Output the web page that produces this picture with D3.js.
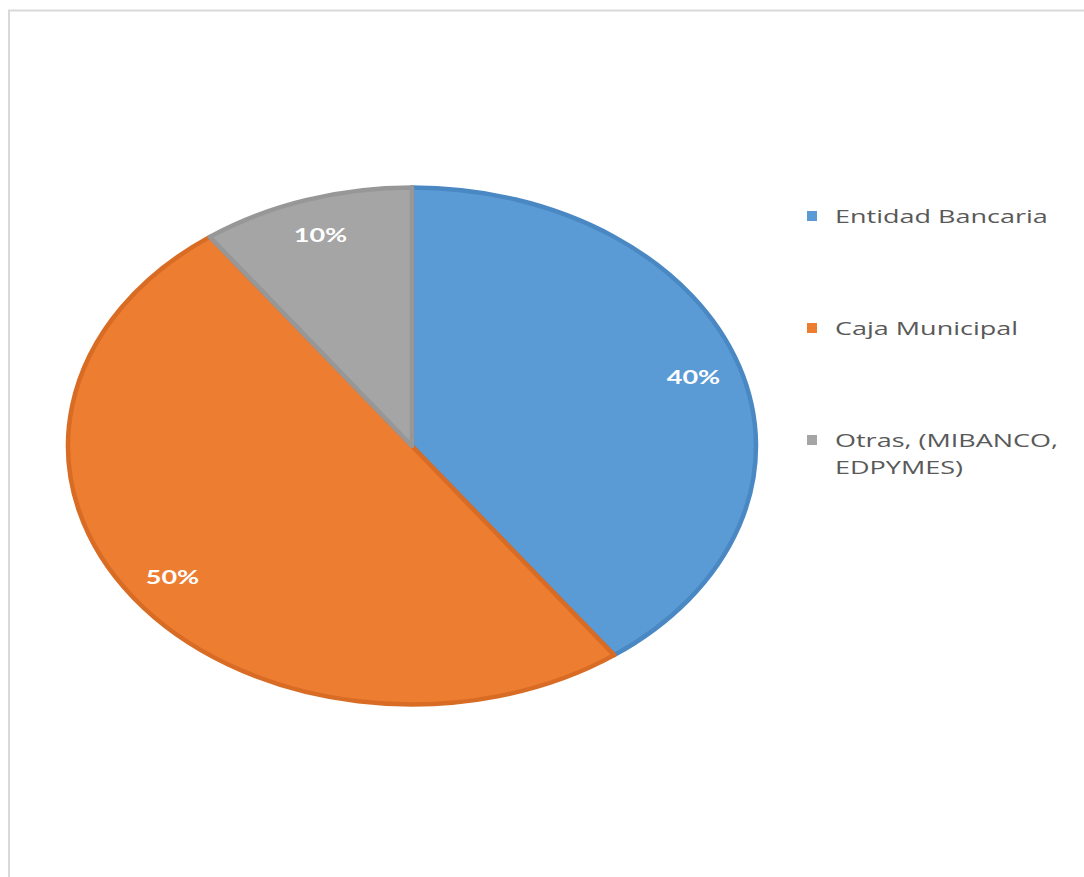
<!DOCTYPE html>
<html>
<head>
<meta charset="utf-8">
<script src="https://cdn.jsdelivr.net/npm/d3@7"></script>
<style>
  html, body { margin: 0; padding: 0; background: #ffffff; }
  svg { display: block; }
</style>
</head>
<body>
<svg id="chart" width="1084" height="877"></svg>
<script>
// Shares of financing source
const categories = ["Entidad Bancaria", "Caja Municipal", "Otras, (MIBANCO, EDPYMES)"];
const values = [40, 50, 10];
const labels = ["40%", "50%", "10%"];
const legendLines = [["Entidad Bancaria"], ["Caja Municipal"], ["Otras, (MIBANCO,", "EDPYMES)"]];
const fills = ["#5b9bd5", "#ed7d31", "#a5a5a5"];
const edges = ["#4a88c4", "#d96c24", "#979797"];

const svg = d3.select("#chart");

// chart frame
svg.append("path")
  .attr("d", "M9,877 V10.5 H1084")
  .attr("fill", "none")
  .attr("stroke", "#d9d9d9")
  .attr("stroke-width", 2);

const cx = 412, cy = 446, rx = 346, ry = 260;
const squash = ry / rx;
const stretch = 1.5; // text is drawn widened like the pie

const pie = d3.pie().sort(null).value(d => d)(values);
const arc = d3.arc().innerRadius(0).outerRadius(rx - 2);
const labelArc = d3.arc().innerRadius(296).outerRadius(296);

const g = svg.append("g")
  .attr("transform", `translate(${cx},${cy}) scale(1,${squash})`);

g.selectAll("path.slice")
  .data(pie)
  .join("path")
  .attr("class", "slice")
  .attr("d", arc)
  .attr("fill", (d, i) => fills[i])
  .attr("stroke", (d, i) => edges[i])
  .attr("stroke-width", 4.5)
  .attr("stroke-linejoin", "round")
  .attr("vector-effect", "non-scaling-stroke");

// percentage labels
svg.selectAll("text.pct")
  .data(pie)
  .join("text")
  .attr("class", "pct")
  .attr("transform", d => {
    const [x, y] = labelArc.centroid(d);
    return `translate(${cx + x},${cy + y * squash}) scale(${stretch},1)`;
  })
  .attr("text-anchor", "middle")
  .attr("dominant-baseline", "central")
  .attr("fill", "#ffffff")
  .attr("font-family", "Lato, 'Open Sans', sans-serif")
  .attr("font-weight", "bold")
  .attr("font-size", 18)
  .text((d, i) => labels[i]);

// legend
const legendY = [216, 328, 440];
const leg = svg.append("g");
categories.forEach((c, i) => {
  leg.append("rect")
    .attr("x", 807).attr("y", legendY[i] - 5)
    .attr("width", 10).attr("height", 10)
    .attr("fill", fills[i]);
  const t = leg.append("text")
    .attr("transform", `translate(835,${legendY[i]}) scale(${stretch},1)`)
    .attr("dominant-baseline", "central")
    .attr("fill", "#595959")
    .attr("font-family", "'Open Sans', 'DejaVu Sans', sans-serif")
    .attr("font-size", 18);
  legendLines[i].forEach((line, j) => {
    t.append("tspan").attr("x", 0).attr("dy", j === 0 ? 0 : 27).text(line);
  });
});
</script>
</body>
</html>
